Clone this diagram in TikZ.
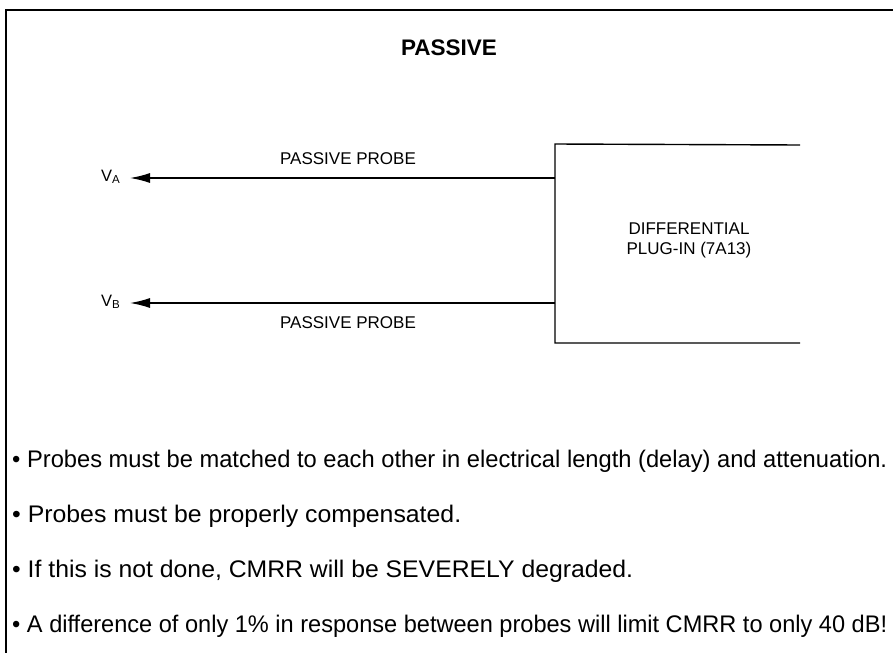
\documentclass[tikz,border=0pt]{standalone}
\usepackage{fontspec}
\usepackage{graphicx}
\setmainfont{Liberation Sans}
\usetikzlibrary{arrows.meta}
\newcommand{\fitline}[2]{\resizebox{#1}{\height}{#2}}
\begin{document}
\begin{tikzpicture}[x=1pt,y=-1pt,
  wire/.style={line width=1.4pt},
  probe/.style={wire,-{Latex[length=20pt,width=10pt]}},
  lbl/.style={font=\fontsize{16.5}{19}\selectfont,inner sep=0pt},
  bullet/.style={font=\fontsize{24}{28}\selectfont,anchor=base west,inner sep=0pt}]
\useasboundingbox (0,0) rectangle (893,653);
% frame
\coordinate (ftl) at (6,10);
\coordinate (ftr) at (893,10);
\coordinate (fbl) at (6,653);
\draw[wire] (ftr) -- (ftl) -- (fbl);
\node[font=\bfseries\fontsize{22.5}{26}\selectfont,inner sep=0pt] (title) at (449,48) {PASSIVE};
% box
\coordinate (btl) at (555,144);
\coordinate (btr) at (800,145);
\coordinate (bbl) at (555,343);
\coordinate (bbr) at (800,343);
\draw[wire] (btr) -- (btl) -- (bbl) -- (bbr);
\node[lbl,font=\fontsize{17}{20}\selectfont,align=center] (plug) at (689,240) {DIFFERENTIAL\\PLUG-IN (7A13)};
% probes
\coordinate (pa) at (555,178);
\coordinate (pb) at (555,303);
\node[lbl,anchor=base west] (va) at (101,181) {V\textsubscript{A}};
\node[lbl,anchor=base west] (vb) at (101,306) {V\textsubscript{B}};
\coordinate (ta) at (130,178);
\coordinate (tb) at (130,303);
\draw[probe] (pa) -- (ta);
\draw[probe] (pb) -- (tb);
\node[lbl,font=\fontsize{17}{20}\selectfont] (la) at (348,159) {PASSIVE PROBE};
\node[lbl,font=\fontsize{17}{20}\selectfont] (lb) at (348,323) {PASSIVE PROBE};
% bullets
\node[bullet] (b1) at (12,467) {\fitline{875pt}{\textbullet\ Probes must be matched to each other in electrical length (delay) and attenuation.}};
\node[bullet] (b2) at (12,522) {\fitline{449pt}{\textbullet\ Probes must be properly compensated.}};
\node[bullet] (b3) at (12,577) {\fitline{621pt}{\textbullet\ If this is not done, CMRR will be SEVERELY degraded.}};
\node[bullet] (b4) at (12,632) {\fitline{875pt}{\textbullet\ A difference of only 1\% in response between probes will limit CMRR to only 40 dB!}};
\end{tikzpicture}
\end{document}
